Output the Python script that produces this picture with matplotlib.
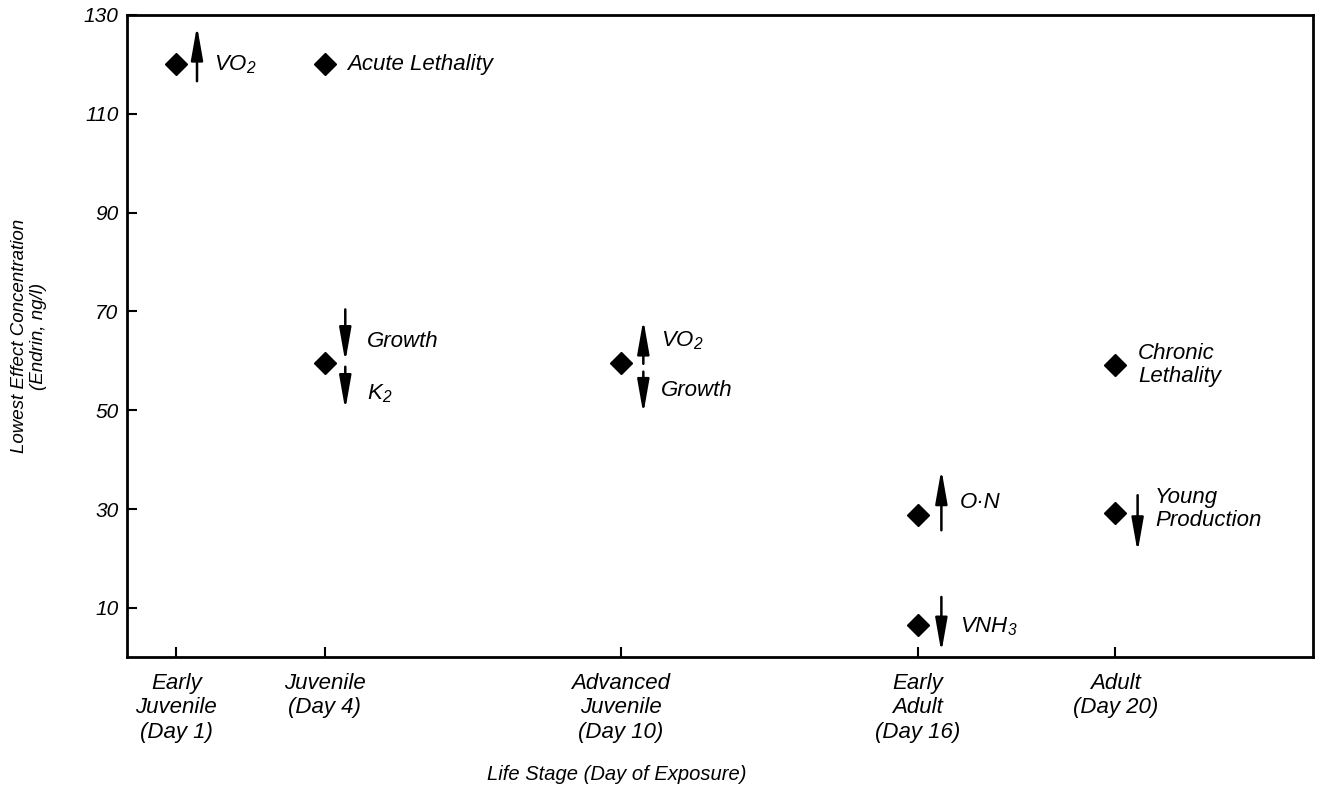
import matplotlib
matplotlib.use("Agg")
import matplotlib.pyplot as plt

plt.rcParams['font.family'] = ['Liberation Sans', 'DejaVu Sans']
plt.rcParams['font.style'] = 'italic'
plt.rcParams['mathtext.fontset'] = 'custom'
plt.rcParams['mathtext.rm'] = 'Liberation Sans:italic'
plt.rcParams['mathtext.it'] = 'Liberation Sans:italic'

# stages on the x axis
stage_days = [1, 4, 10, 16, 20]
stage_labels = ["Early\nJuvenile\n(Day 1)", "Juvenile\n(Day 4)",
                "Advanced\nJuvenile\n(Day 10)", "Early\nAdult\n(Day 16)",
                "Adult\n(Day 20)"]

# lowest effect concentrations (diamonds)
point_day = [1, 4, 4, 10, 16, 16, 20, 20]
point_conc = [120, 120, 59.5, 59.5, 28.8, 6.5, 59.2, 29.2]

# arrows: up = increase, down = decrease
arrow_day = [1.42, 4.42, 4.42, 10.45, 10.45, 16.48, 16.48, 20.45]
arrow_from = [116.6, 70.4, 58.8, 59.4, 57.8, 25.7, 12.2, 32.8]
arrow_to = [127.8, 59.8, 50.1, 68.3, 49.3, 38.0, 1.0, 21.3]

# effect labels
label_day = [1.77, 4.45, 4.85, 4.85, 10.8, 10.8, 20.46, 16.85, 16.85, 20.8]
label_conc = [120, 120, 63.9, 53.3, 64.0, 54.0, 59.2, 31.4, 6.1, 30.0]
label_text = ["VO$_2$", "Acute Lethality", "Growth", "K$_2$", "VO$_2$",
              "Growth", "Chronic\nLethality", "O\u00b7N", "VNH$_3$",
              "Young\nProduction"]

fig = plt.figure(figsize=(13.21, 7.89), dpi=100)
ax = fig.add_axes([0.096, 0.167, 0.898, 0.814])

ax.plot(point_day, point_conc, 'D', color='black', markersize=11, linestyle='none')

for x, y0, y1 in zip(arrow_day, arrow_from, arrow_to):
    ax.annotate('', xy=(x, y1), xytext=(x, y0),
                arrowprops=dict(arrowstyle='-|>,head_length=1.7,head_width=0.3',
                                mutation_scale=12, color='black', lw=1.8,
                                shrinkA=0, shrinkB=0))

for x, y, t in zip(label_day, label_conc, label_text):
    ax.text(x, y, t, fontsize=16, ha='left', va='center', linespacing=1.15)

ax.set_xlim(0, 24)
ax.set_ylim(0, 130)
ax.set_xticks(stage_days)
ax.set_yticks([10, 30, 50, 70, 90, 110, 130])
ax.tick_params(direction='in', length=7, width=1.5)
ax.tick_params(axis='y', pad=6, labelsize=15)
ax.tick_params(axis='x', pad=11, labelsize=16)
ax.set_xticklabels(stage_labels, fontsize=16, linespacing=1.22)
for s in ax.spines.values():
    s.set_linewidth(2)

ax.set_ylabel("Lowest Effect Concentration\n(Endrin, ng/l)", fontsize=13.5,
              linespacing=1.2)
ax.yaxis.set_label_coords(-0.067, 0.5)
ax.set_xlabel("Life Stage (Day of Exposure)", fontsize=14.5)
ax.xaxis.set_label_coords(0.413, -0.168)

fig.savefig('out.png', dpi=100)
